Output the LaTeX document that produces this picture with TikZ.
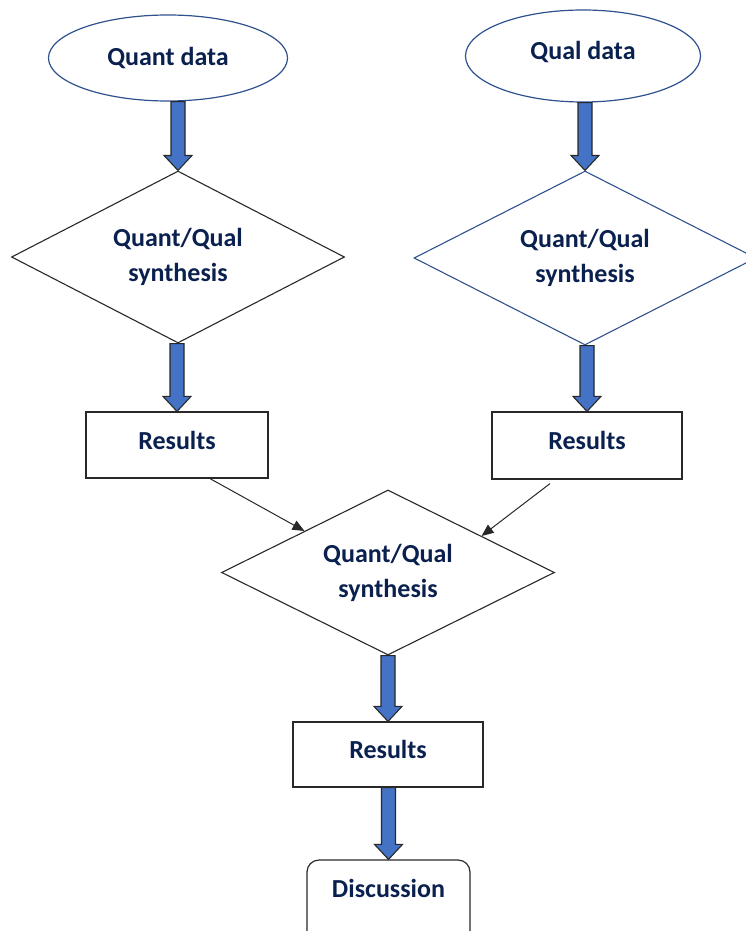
\documentclass[tikz,border=0pt]{standalone}
\usepackage{fontspec}
\setmainfont{Carlito}
\usetikzlibrary{shapes.geometric,arrows.meta,calc}
\definecolor{navytext}{RGB}{10,32,78}
\definecolor{outlineblue}{RGB}{47,82,143}
\definecolor{arrowfill}{RGB}{68,114,196}
\definecolor{edgegray}{RGB}{40,40,40}
\newcommand\fatarrow[2]{%
  \draw[blockarr] let \p1=(#1.south), \p2=(#2.north) in
    (\x2-7pt,\y1) -- (\x2+7pt,\y1) -- (\x2+7pt,\y2+15pt) -- (\x2+14pt,\y2+15pt)
    -- (\x2,\y2) -- (\x2-14pt,\y2+15pt) -- (\x2-7pt,\y2+15pt) -- cycle;}
\begin{document}
\begin{tikzpicture}[x=1pt,y=-1pt,
  txt/.style={text=navytext,font=\fontsize{26}{35}\selectfont\bfseries,align=center},
  dataell/.style={ellipse,draw=outlineblue,line width=1.2pt,inner sep=0pt,txt},
  synth/.style={diamond,draw=edgegray,line width=1.1pt,inner sep=0pt,aspect=2,txt},
  resbox/.style={rectangle,draw=edgegray,line width=1.2pt,inner sep=0pt,text depth=10pt,txt},
  blockarr/.style={fill=arrowfill,draw=edgegray,line width=1.1pt,line join=miter},
  linkarrow/.style={draw=edgegray,line width=1pt,-{Triangle[length=12pt,width=10pt]}}]
\useasboundingbox (0,0) rectangle (746,931);
\clip (0,0) rectangle (746,931);
% top data ellipses
\node[dataell,minimum width=239pt,minimum height=86pt] (qd) at (168,58) {Quant data};
\node[dataell,minimum width=235pt,minimum height=92pt,text depth=11pt] (ld) at (583,56) {Qual data};
% synthesis diamonds
\node[synth,minimum width=333pt,minimum height=172pt] (d1) at (178,257) {Quant/Qual\\synthesis};
\node[synth,draw=outlineblue,minimum width=342pt,minimum height=174pt] (d2) at (585,258) {Quant/Qual\\synthesis};
% results
\node[resbox,minimum width=182pt,minimum height=66pt] (r1) at (177,445) {Results};
\node[resbox,minimum width=190pt,minimum height=67pt] (r2) at (587,445.5) {Results};
% central diamond
\node[synth,minimum width=333pt,minimum height=165pt] (d3) at (388,572.5) {Quant/Qual\\synthesis};
\node[resbox,minimum width=190pt,minimum height=65pt] (r3) at (388,754.5) {Results};
% discussion
\node[rectangle,rounded corners=12pt,draw=edgegray,line width=1.2pt,minimum width=163pt,minimum height=90pt] (disc) at (388.5,905) {};
\node[txt] (disctext) at (388.5,888) {Discussion};
% block arrows
\fatarrow{qd}{d1}
\fatarrow{ld}{d2}
\fatarrow{d1}{r1}
\fatarrow{d2}{r2}
\fatarrow{d3}{r3}
\fatarrow{r3}{disc}
% thin arrows
\draw[linkarrow] ([xshift=33pt]r1.south) -- (d3.north west);
\draw[linkarrow] ([xshift=-37pt,yshift=-4pt]r2.south) -- ($(d3.north)!0.56!(d3.east)$);
\end{tikzpicture}
\end{document}
